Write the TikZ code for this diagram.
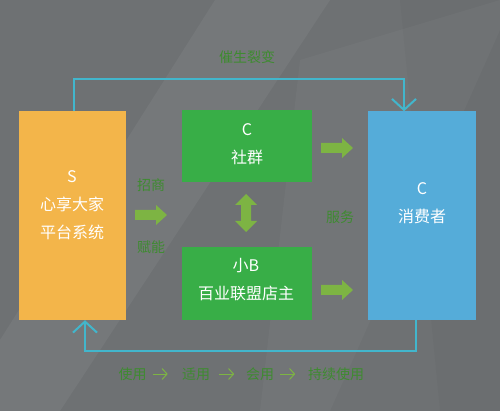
\documentclass[tikz,border=0pt]{standalone}
\usepackage{fontspec}
\setmainfont{Noto Sans CJK SC}
\usetikzlibrary{arrows.meta}
\definecolor{bggray}{HTML}{6E7173}
\definecolor{sorange}{HTML}{F3B54A}
\definecolor{cgreen}{HTML}{38AE47}
\definecolor{cblue}{HTML}{55ACD9}
\definecolor{lineblue}{HTML}{42B6CC}
\definecolor{labgreen}{HTML}{3E8B30}
\definecolor{arrgreen}{HTML}{7DB443}
\tikzset{
  box/.style={draw=none, inner sep=0pt},
  boxtext/.style={text=white, font=\fontsize{16}{28}\selectfont, align=center, inner sep=0pt},
  lab/.style={text=labgreen, font=\fontsize{14}{16}\selectfont, inner sep=0pt},
  conn/.style={draw=lineblue, line width=2pt, -{Straight Barb[length=11pt,width=24pt,line width=2pt]}},
  thin arrow/.style={draw=arrgreen, line width=1pt, -{Straight Barb[length=5pt,width=11pt]}},
  rarrow/.pic={\fill[arrgreen] (0,-5) -- (21,-5) -- (21,-10) -- (32,0) -- (21,10) -- (21,5) -- (0,5) -- cycle;},
  vdarrow/.pic={\fill[arrgreen] (0,-19) -- (11,-8) -- (5,-8) -- (5,8) -- (11,8) -- (0,19) -- (-11,8) -- (-5,8) -- (-5,-8) -- (-11,-8) -- cycle;}
}
\begin{document}
\begin{tikzpicture}[x=1pt,y=-1pt]
\useasboundingbox (0,0) rectangle (500,411);
\fill[bggray] (0,0) rectangle (500,411);
% subtle diagonal streaks
\fill[white,opacity=0.05] (215,0) -- (330,0) -- (60,411) -- (0,411) -- (0,340) -- cycle;
\fill[white,opacity=0.03] (300,60) -- (500,0) -- (500,30) -- (330,411) -- (260,411) -- cycle;
\fill[black,opacity=0.025] (400,0) -- (500,0) -- (500,411) -- (440,411) -- cycle;

% boxes
\node[box, fill=sorange, minimum width=107pt, minimum height=208.5pt] (S) at (72,215.75) {};
\node[box, fill=cgreen, minimum width=130pt, minimum height=72pt] (CG) at (246.5,146) {};
\node[box, fill=cgreen, minimum width=130pt, minimum height=73pt] (SB) at (246.5,283.5) {};
\node[box, fill=cblue, minimum width=107.5pt, minimum height=208.5pt] (CC) at (421.75,215.75) {};

% box texts
\node[boxtext] (St) at (72,205) {S\\心享大家\\平台系统};
\node[boxtext] (CGt) at (247,144) {C\\社群};
\node[boxtext] (SBt) at (246,280) {小B\\百业联盟店主};
\node[boxtext] (CCt) at (422,203) {C\\消费者};

% feedback connectors
\coordinate (topL) at (73.5,79.5);
\coordinate (topR) at (404,79.5);
\coordinate (botR) at (415.5,351);
\coordinate (botL) at (85,351);
\draw[conn] (S.north -| topL) -- (topL) -- (topR) -- (CC.north -| topR);
\draw[conn] (CC.south -| botR) -- (botR) -- (botL) -- (S.south -| botL);

% labels
\node[lab] (l1) at (247,57) {催生裂变};
\node[lab] (l2) at (151,185) {招商};
\node[lab] (l3) at (151,247) {赋能};
\node[lab] (l4) at (340,217) {服务};

% block arrows
\pic at (135,215) {rarrow};
\pic at (321,148) {rarrow};
\pic at (321,290) {rarrow};
\pic at (246,213) {vdarrow};

% bottom flow
\node[lab] (u1) at (132.5,374) {使用};
\node[lab] (u2) at (196,374) {适用};
\node[lab] (u3) at (260,374) {会用};
\node[lab] (u4) at (336,374) {持续使用};
\draw[thin arrow] ([xshift=6pt]u1.east) -- ++(15pt,0);
\draw[thin arrow] ([xshift=9pt]u2.east) -- ++(15pt,0);
\draw[thin arrow] ([xshift=6pt]u3.east) -- ++(15pt,0);
\end{tikzpicture}
\end{document}
